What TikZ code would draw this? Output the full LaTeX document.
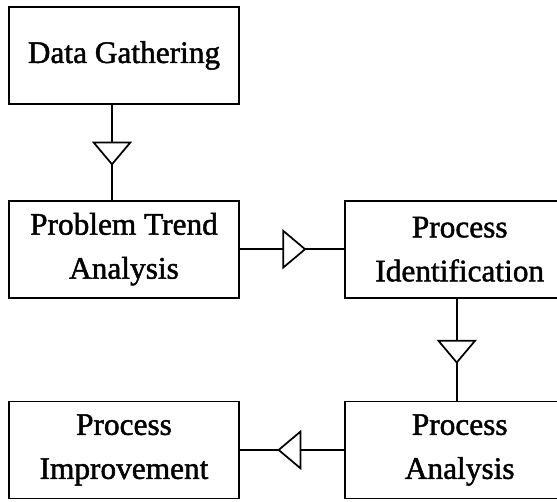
\documentclass[tikz,border=0pt]{standalone}
\usepackage{fontspec}
\setmainfont{Liberation Serif}[FakeBold=1.5]
\usetikzlibrary{positioning,arrows.meta,decorations.markings}

\tikzset{
  stage/.style={draw, line width=1.3pt, minimum width=172.5pt, minimum height=72.75pt,
    align=center, inner sep=0pt, font=\fontsize{23.5}{33}\selectfont},
  flow/.style={line width=1.3pt, postaction={decorate},
    decoration={markings, mark=at position 0.64 with {\arrow{Triangle[length=18pt, width=30pt, fill=white]}}}}
}

\begin{document}
\begin{tikzpicture}
		\useasboundingbox (0,0) rectangle (417.75pt,-375.75pt);
		\node (dg) [stage] at (93pt,-41.6pt) {Data Gathering};
		\node (pta) [stage, below=71.25pt of dg] {Problem Trend\\Analysis};
		\node (pid) [stage, right=78pt of pta] {Process\\Identification};
		\node (pa) [stage, below=76.5pt of pid] {Process\\Analysis};
		\node (pim) [stage, left=78pt of pa] {Process\\Improvement};
		\draw[flow] ([xshift=-9pt]dg.south) -- ([xshift=-9pt]pta.north);
		\draw[flow] (pta) -- (pid);
		\draw[flow] ([xshift=-2.25pt]pid.south) -- ([xshift=-2.25pt]pa.north);
		\draw[flow] (pa) -- (pim);
\end{tikzpicture}
\end{document}
